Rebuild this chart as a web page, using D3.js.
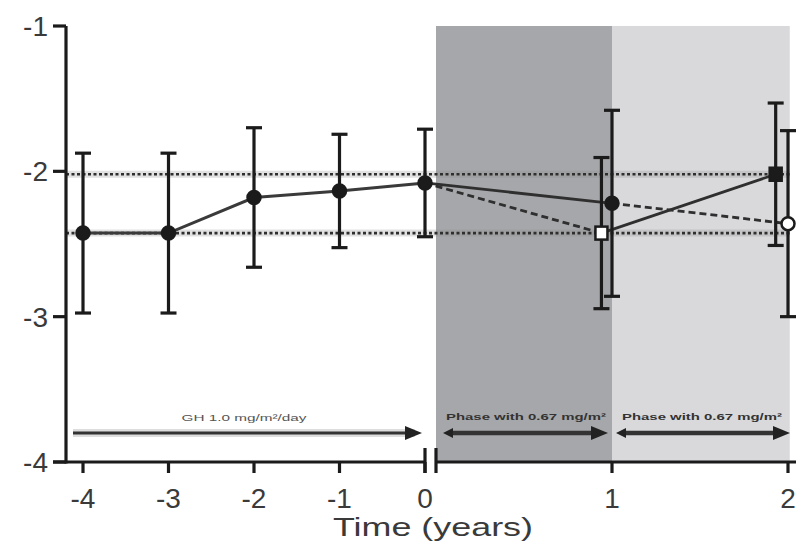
<!DOCTYPE html>
<html><head><meta charset="utf-8">
<script src="https://cdn.jsdelivr.net/npm/d3@7"></script>
<style>body{margin:0;background:#fff}svg{display:block}</style>
</head><body><svg id="c" width="805" height="557"></svg>
<script>
// ---- data ----
const baseYears = [-4, -3, -2, -1, 0];
const baseMean  = [-2.425, -2.425, -2.18, -2.135, -2.08];
const baseSD    = [0.55, 0.55, 0.48, 0.39, 0.37];

const g1Times = [1.0, 2.0];          // filled at year 1, open at year 2
const g1Mean  = [-2.22, -2.36];
const g1SD    = [0.64, 0.64];
const g1Fill  = [true, false];

const g2Times = [0.94, 1.93];        // open at year 1, filled at year 2
const g2Mean  = [-2.425, -2.02];
const g2SD    = [0.52, 0.49];
const g2Fill  = [false, true];

const refLines = [-2.02, -2.425];
const yTicks = [-1, -2, -3, -4];
const xTicksLeft = [-4, -3, -2, -1, 0];
const xTicksRight = [1, 2];
const phases = [[0, 1, "#a6a7aa"], [1, 2.01, "#d9d9dc"]];
const leftArrowLabel = "GH 1.0 mg/m²/day";
const phaseLabels = ["Phase with 0.67 mg/m²", "Phase with 0.67 mg/m²"];
const xTitle = "Time (years)";

// ---- scales ----
const svg = d3.select("#c");
const y = d3.scaleLinear().domain([-4, -1]).range([462, 26]);
const xL = d3.scaleLinear().domain([-4, 0]).range([83, 425]);
const xR = d3.scaleLinear().domain([0, 2]).range([436, 788]);
const axisX0 = 66, axisY0 = y(-4);
const ink = "#1b1b1b", txt = "#3a3a3a";
const font = "'Liberation Sans', Arial, sans-serif";

// phase shading
svg.append("g").selectAll("rect").data(phases).join("rect")
  .attr("x", d => xR(d[0])).attr("width", d => xR(d[1]) - xR(d[0]))
  .attr("y", y(-1)).attr("height", y(-4) - y(-1))
  .attr("fill", d => d[2]);

// reference dotted lines
const rl = svg.append("g");
rl.selectAll("line.h").data(refLines).join("line")
  .attr("x1", axisX0).attr("x2", xR(2.01)).attr("y1", d => y(d)).attr("y2", d => y(d))
  .attr("stroke", "#888").attr("stroke-opacity", 0.25).attr("stroke-width", 7);
rl.selectAll("line.d").data(refLines).join("line")
  .attr("x1", axisX0).attr("x2", xR(2.01)).attr("y1", d => y(d)).attr("y2", d => y(d))
  .attr("stroke", "#2e2e2e").attr("stroke-width", 2.6).attr("stroke-dasharray", "3,2.5");

// baseline connecting line
const baseData = baseYears.map((t, i) => ({x: xL(t), m: baseMean[i], sd: baseSD[i], fill: true}));
svg.append("path").datum(baseData)
  .attr("d", d3.line().x(d => d.x).y(d => y(d.m)))
  .attr("fill", "none").attr("stroke", "#3a3a3a").attr("stroke-width", 3);

const p0 = baseData[baseData.length - 1];
const g1 = g1Times.map((t, i) => ({x: xR(t), m: g1Mean[i], sd: g1SD[i], fill: g1Fill[i], shape: "circle"}));
const g2 = g2Times.map((t, i) => ({x: xR(t), m: g2Mean[i], sd: g2SD[i], fill: g2Fill[i], shape: "square"}));

// segments: solid when ending at filled marker, dashed when ending at open marker
function seg(a, b) {
  svg.append("line").attr("x1", a.x).attr("y1", y(a.m)).attr("x2", b.x).attr("y2", y(b.m))
    .attr("stroke", "#2f2f2f").attr("stroke-width", 2.8)
    .attr("stroke-dasharray", b.fill ? null : "7,4");
}
seg(p0, g1[0]); seg(g1[0], g1[1]);
seg(p0, g2[0]); seg(g2[0], g2[1]);

// error bars
const all = baseData.concat(g1, g2);
const eb = svg.append("g").attr("stroke", ink).attr("stroke-width", 3.2);
all.forEach(d => {
  eb.append("line").attr("x1", d.x).attr("x2", d.x).attr("y1", y(d.m + d.sd)).attr("y2", y(d.m - d.sd));
  [d.m + d.sd, d.m - d.sd].forEach(v =>
    eb.append("line").attr("x1", d.x - 8).attr("x2", d.x + 8).attr("y1", y(v)).attr("y2", y(v)));
});

// markers
all.forEach(d => {
  const fillc = d.fill ? ink : "#fff";
  if (d.shape === "square") {
    svg.append("rect").attr("x", d.x - 6).attr("y", y(d.m) - 6.5).attr("width", 12).attr("height", 13)
      .attr("fill", fillc).attr("stroke", ink).attr("stroke-width", 2.5);
  } else {
    svg.append("circle").attr("cx", d.x).attr("cy", y(d.m)).attr("r", 6.5)
      .attr("fill", fillc).attr("stroke", ink).attr("stroke-width", 2.5);
  }
});

// arrows
function arrow(x1, x2, yy, col, w, leftHead) {
  const g = svg.append("g");
  g.append("line").attr("x1", x1 + (leftHead ? 6 : 0)).attr("x2", x2 - 12).attr("y1", yy).attr("y2", yy)
    .attr("stroke", col).attr("stroke-width", w);
  g.append("path").attr("d", `M${x2},${yy} L${x2 - 17},${yy - 7} L${x2 - 17},${yy + 7} Z`).attr("fill", "#222");
  if (leftHead) g.append("path").attr("d", `M${x1},${yy} L${x1 + 10},${yy - 5} L${x1 + 10},${yy + 5} Z`).attr("fill", "#222");
}
const arrowY = 433;
svg.append("line").attr("x1", xL(-4) - 10).attr("x2", xL(0) - 10).attr("y1", arrowY).attr("y2", arrowY)
  .attr("stroke", "#bbb").attr("stroke-width", 8).attr("stroke-opacity", 0.5);
arrow(xL(-4) - 10, xL(0) - 3, arrowY, "#333", 3.2, false);
arrow(xR(0) + 7, xR(1) - 4, arrowY, "#333", 4.5, true);
arrow(xR(1) + 4, xR(2) + 2, arrowY, "#333", 4.5, true);

svg.append("text").attr("x", (xL(-4) + xL(0)) / 2 - 10).attr("y", 421).attr("text-anchor", "middle")
  .attr("font-family", font).attr("font-size", 9).attr("fill", "#555")
  .attr("textLength", 125).attr("lengthAdjust", "spacingAndGlyphs").text(leftArrowLabel);
phaseLabels.forEach((t, i) => {
  svg.append("text").attr("x", (xR(i) + xR(i + 1)) / 2 + 2).attr("y", 420).attr("text-anchor", "middle")
    .attr("font-family", font).attr("font-size", 9).attr("font-weight", "bold").attr("fill", "#333")
    .attr("textLength", 160).attr("lengthAdjust", "spacingAndGlyphs").text(t);
});

// axes
const ax = svg.append("g").attr("stroke", ink).attr("stroke-width", 3.2);
ax.append("line").attr("x1", axisX0).attr("x2", axisX0).attr("y1", y(-1)).attr("y2", axisY0 + 1.5);
yTicks.forEach(v => ax.append("line").attr("x1", axisX0 - 13).attr("x2", axisX0).attr("y1", y(v)).attr("y2", y(v)));
ax.append("line").attr("x1", axisX0 - 13).attr("x2", xL(0)).attr("y1", axisY0).attr("y2", axisY0);
ax.append("line").attr("x1", xR(0)).attr("x2", xR(2) + 8).attr("y1", axisY0).attr("y2", axisY0);
xTicksLeft.forEach(v => ax.append("line").attr("x1", xL(v)).attr("x2", xL(v)).attr("y1", axisY0).attr("y2", axisY0 + 11));
xTicksRight.forEach(v => ax.append("line").attr("x1", xR(v)).attr("x2", xR(v)).attr("y1", axisY0).attr("y2", axisY0 + 11));
// axis break marks
[xL(0), xR(0)].forEach(xx => ax.append("line").attr("x1", xx).attr("x2", xx).attr("y1", axisY0 - 14).attr("y2", axisY0 + 11));

const tl = svg.append("g").attr("font-family", font).attr("font-size", 28).attr("fill", txt);
yTicks.forEach(v => tl.append("text").attr("x", 48).attr("y", y(v) + 10).attr("text-anchor", "end").text(v));
xTicksLeft.forEach(v => tl.append("text").attr("x", xL(v)).attr("y", 508).attr("text-anchor", "middle").text(v));
xTicksRight.forEach(v => tl.append("text").attr("x", xR(v)).attr("y", 508).attr("text-anchor", "middle").text(v));
tl.append("text").attr("x", 433).attr("y", 536).attr("text-anchor", "middle").attr("font-size", 26)
  .attr("textLength", 200).attr("lengthAdjust", "spacingAndGlyphs").text(xTitle);
</script></body></html>
